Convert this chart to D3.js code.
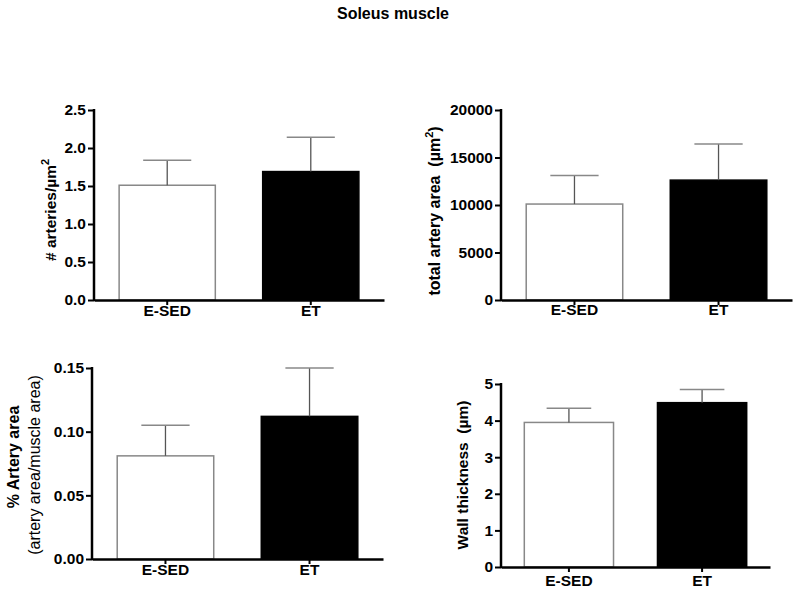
<!DOCTYPE html>
<html>
<head>
<meta charset="utf-8">
<script src="https://cdn.jsdelivr.net/npm/d3@7"></script>
<style>
  body { margin: 0; background: #fff; }
  text { font-family: "Liberation Sans", Arial, sans-serif; fill: #000; }
  .tick text { font-size: 15.5px; font-weight: bold; }
</style>
</head>
<body>
<svg class="chart" width="800" height="592"></svg>
<script>
// data
var groups = ["E-SED", "ET"];

var arteryCount = [1.51, 1.69];
var arteryCountErr = [0.33, 0.45];
var arteryCountTicks = [0, 0.5, 1.0, 1.5, 2.0, 2.5];

var totalArea = [10100, 12620];
var totalAreaErr = [3000, 3800];
var totalAreaTicks = [0, 5000, 10000, 15000, 20000];

var pctArea = [0.081, 0.112];
var pctAreaErr = [0.024, 0.038];
var pctAreaTicks = [0, 0.05, 0.10, 0.15];

var wallThick = [3.95, 4.49];
var wallThickErr = [0.39, 0.36];
var wallThickTicks = [0, 1, 2, 3, 4, 5];

var barFill = ["#fff", "#000"];

var svg = d3.select(".chart");

svg.append("text")
  .attr("x", 393)
  .attr("y", 19)
  .attr("text-anchor", "middle")
  .style("font-size", "16px")
  .style("font-weight", "bold")
  .text("Soleus muscle");

// panel layout
var panels = [
  {x0: 94, x1: 384, y0: 110, y1: 300, vals: arteryCount, errs: arteryCountErr, ticks: arteryCountTicks,
   fmt: d3.format(".1f"), xPad: 0, labelX: 56, labelY: 210, size: 15.5,
   label: [["# arteries/µm", 0], ["2", -7]]},
  {x0: 501, x1: 792, y0: 110, y1: 300, vals: totalArea, errs: totalAreaErr, ticks: totalAreaTicks,
   fmt: d3.format("d"), xPad: -1, labelX: 440, labelY: 211, size: 16,
   label: [["total artery area\u00a0\u00a0(µm", 0], ["2", -7], [")", 7]]},
  {x0: 92, x1: 383, y0: 368, y1: 559, vals: pctArea, errs: pctAreaErr, ticks: pctAreaTicks,
   fmt: d3.format(".2f"), xPad: 0, labelX: 19, labelY: 457, size: 16,
   label: [["% Artery area", 0]], label2: "(artery area/muscle area)"},
  {x0: 501, x1: 770, y0: 384, y1: 567, vals: wallThick, errs: wallThickErr, ticks: wallThickTicks,
   fmt: d3.format("d"), xPad: 3, labelX: 468, labelY: 475, size: 15.5,
   label: [["Wall thickness\u00a0\u00a0(µm)", 0]]}
];

panels.forEach(function(p) {
  var g = svg.append("g");

  var x = d3.scaleBand()
    .domain(groups)
    .range([p.x0, p.x1])
    .paddingInner(0.33)
    .paddingOuter(0.175);

  var y = d3.scaleLinear()
    .domain([0, p.ticks[p.ticks.length - 1]])
    .range([p.y1, p.y0]);

  // bars
  g.selectAll("rect.bar")
    .data(groups)
    .enter().append("rect")
    .attr("class", "bar")
    .attr("x", function(d) { return x(d); })
    .attr("width", x.bandwidth())
    .attr("y", function(d, i) { return y(p.vals[i]); })
    .attr("height", function(d, i) { return p.y1 - y(p.vals[i]); })
    .attr("fill", function(d, i) { return barFill[i]; })
    .attr("stroke", function(d, i) { return i == 0 ? "#888" : "#000"; })
    .attr("stroke-width", 1.5);

  // error bars (upper only)
  var eb = g.selectAll("g.err")
    .data(groups)
    .enter().append("g")
    .attr("class", "err");

  eb.append("line")
    .attr("x1", function(d) { return x(d) + x.bandwidth() / 2; })
    .attr("x2", function(d) { return x(d) + x.bandwidth() / 2; })
    .attr("y1", function(d, i) { return y(p.vals[i]); })
    .attr("y2", function(d, i) { return y(p.vals[i] + p.errs[i]); })
    .attr("stroke", "#555")
    .attr("stroke-width", 1.3);

  eb.append("line")
    .attr("x1", function(d) { return x(d) + x.bandwidth() / 4; })
    .attr("x2", function(d) { return x(d) + x.bandwidth() * 3 / 4; })
    .attr("y1", function(d, i) { return y(p.vals[i] + p.errs[i]); })
    .attr("y2", function(d, i) { return y(p.vals[i] + p.errs[i]); })
    .attr("stroke", "#888")
    .attr("stroke-width", 1.5);

  // axes
  var yAxis = g.append("g")
    .attr("transform", "translate(" + [p.x0, 0] + ")")
    .call(d3.axisLeft(y).tickValues(p.ticks).tickFormat(p.fmt).tickSize(6).tickPadding(2).tickSizeOuter(0));

  var xAxis = g.append("g")
    .attr("transform", "translate(" + [0, p.y1] + ")")
    .call(d3.axisBottom(x).tickSize(5).tickPadding(p.xPad).tickSizeOuter(0));

  [yAxis, xAxis].forEach(function(a) {
    a.select(".domain").attr("stroke", "#000").attr("stroke-width", 2.5);
    a.selectAll(".tick line").attr("stroke", "#000").attr("stroke-width", 2);
    a.selectAll(".tick text").attr("fill", "#000");
  });
  // let the y-axis line reach the x-axis corner
  yAxis.select(".domain").attr("d", "M0," + (p.y0 - 1) + "V" + (p.y1 + 1));

  // axis title
  var t = g.append("text")
    .attr("transform", "translate(" + [p.labelX, p.labelY] + ") rotate(-90)")
    .attr("text-anchor", "middle")
    .attr("dy", "0.35em")
    .style("font-size", p.size + "px")
    .style("font-weight", "bold");

  p.label.forEach(function(part) {
    t.append("tspan")
      .attr("dy", part[1])
      .style("font-size", part[1] < 0 ? "11px" : null)
      .text(part[0]);
  });

  if (p.label2) {
    g.append("text")
      .attr("transform", "translate(" + [p.labelX + 15, p.labelY + 8] + ") rotate(-90)")
      .attr("text-anchor", "middle")
      .attr("dy", "0.35em")
      .style("font-size", "16px")
      .text(p.label2);
  }
});
</script>
</body>
</html>
